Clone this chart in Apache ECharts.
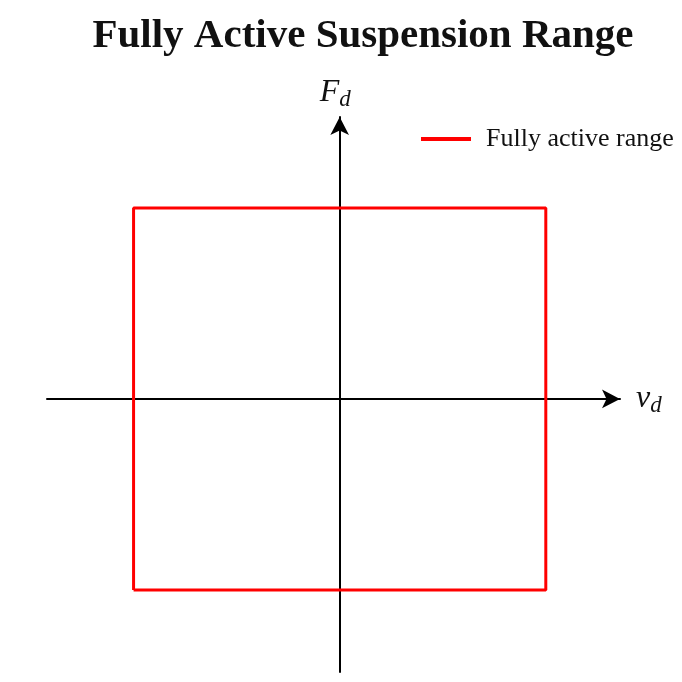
<!DOCTYPE html>
<html><head><meta charset="utf-8">
<script src="https://cdn.jsdelivr.net/npm/echarts@6/dist/echarts.min.js"></script>
<style>html,body{margin:0;padding:0;background:#fff}#c{width:682px;height:682px}</style>
</head><body><div id="c"></div>
<script>
const titleText = 'Fully Active Suspension Range';
const seriesName = 'Fully active range';
const rangeX = [-1, 1, 1, -1, -1];
const rangeY = [-1, -1, 1, 1, -1];
const xLimits = [-1.42, 1.36];
const yLimits = [-1.43, 1.476];

const chart = echarts.init(document.getElementById('c'));
const serif = '"Liberation Serif","DejaVu Serif",serif';
chart.setOption({
  backgroundColor: '#fff',
  animation: false,
  title: { text: titleText, left: 358, top: 11, textAlign: 'center',
    textStyle: { fontFamily: serif, fontWeight: 'bold', fontSize: 41, color: '#111' } },
  legend: { left: 416, top: 121, icon: 'rect', itemWidth: 50, itemHeight: 4,
    textStyle: { fontFamily: serif, fontSize: 26, color: '#111', padding: [0,0,0,10] },
    data: [seriesName] },
  grid: { left: 47, right: 62, top: 117, bottom: 10, containLabel: false },
  xAxis: { type: 'value', min: xLimits[0], max: xLimits[1],
    axisLine: { onZero: true, symbol: ['none','arrow'], symbolSize: [14,18], symbolOffset: [0,0],
      lineStyle: { color: '#000', width: 2 } },
    axisTick: { show: false }, axisLabel: { show: false }, splitLine: { show: false },
    name: '{v|v}{s|d}', nameLocation: 'end', nameGap: 16,
    nameTextStyle: { rich: {
      v: { fontFamily: serif, fontStyle: 'italic', fontSize: 32, color: '#111' },
      s: { fontFamily: serif, fontStyle: 'italic', fontSize: 23, color: '#111', padding: [14,0,0,0] } } } },
  yAxis: { type: 'value', min: yLimits[0], max: yLimits[1],
    axisLine: { onZero: true, symbol: ['none','arrow'], symbolSize: [14,18], symbolOffset: [0,0],
      lineStyle: { color: '#000', width: 2 } },
    axisTick: { show: false }, axisLabel: { show: false }, splitLine: { show: false },
    name: '{v|F}{s|d}', nameLocation: 'end', nameGap: 6,
    nameTextStyle: { align: 'left', padding: [0,0,0,-20], rich: {
      v: { fontFamily: serif, fontStyle: 'italic', fontSize: 32, color: '#111' },
      s: { fontFamily: serif, fontStyle: 'italic', fontSize: 23, color: '#111', padding: [14,0,0,0] } } } },
  series: [{ name: seriesName, type: 'line', showSymbol: false, symbol: 'none',
    data: rangeX.map((x, i) => [x, rangeY[i]]),
    lineStyle: { color: '#ff0000', width: 3 }, itemStyle: { color: '#ff0000' } }]
});
</script></body></html>
